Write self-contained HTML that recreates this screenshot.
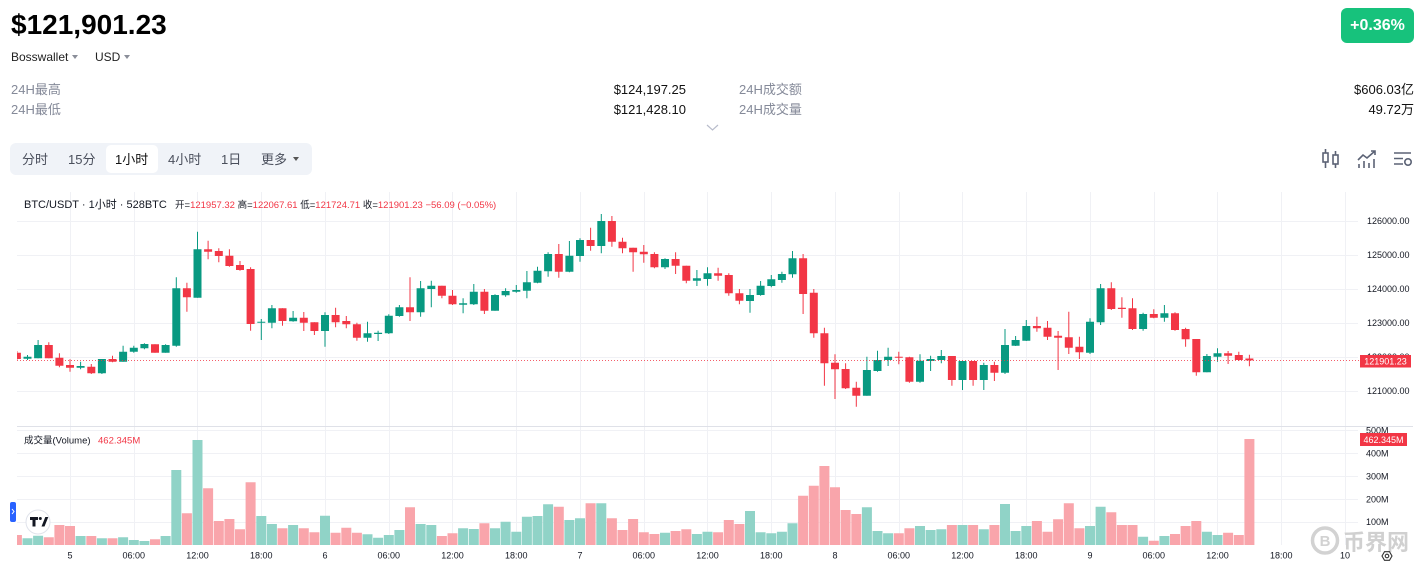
<!DOCTYPE html>
<html><head><meta charset="utf-8"><style>
*{margin:0;padding:0;box-sizing:border-box}
body{width:1423px;height:571px;overflow:hidden;background:#fff;position:relative;font-family:"Liberation Sans","Noto Sans CJK SC",sans-serif}
.a{position:absolute;white-space:nowrap}
.s{font-size:13px;line-height:13px}
.g{color:#858a99}
.v{color:#111}
.t{font-size:13px;line-height:13px;color:#4a4f5c;top:153px}
.tri{position:absolute;width:0;height:0;border-left:3px solid transparent;border-right:3px solid transparent;border-top:4px solid #8a8e99}
</style></head><body>
<div class="a" style="left:11px;top:11px;font-weight:bold;font-size:28px;line-height:28px;color:#000">$121,901.23</div>
<div class="a" style="left:11px;top:51px;font-size:12px;line-height:12px;color:#222">Bosswallet</div>
<div class="tri" style="left:72px;top:55px"></div>
<div class="a" style="left:95px;top:51px;font-size:12px;line-height:12px;color:#222">USD</div>
<div class="tri" style="left:124px;top:55px"></div>
<div class="a" style="left:1341px;top:8px;width:73px;height:35px;background:#17c27c;border-radius:6px;color:#fff;font-weight:bold;font-size:16px;line-height:35px;text-align:center">+0.36%</div>

<div class="a s g" style="left:11px;top:83px">24H最高</div>
<div class="a s g" style="left:11px;top:103px">24H最低</div>
<div class="a s v" style="right:737px;top:83px">$124,197.25</div>
<div class="a s v" style="right:737px;top:103px">$121,428.10</div>
<div class="a s g" style="left:739px;top:83px">24H成交额</div>
<div class="a s g" style="left:739px;top:103px">24H成交量</div>
<div class="a s v" style="right:9px;top:83px">$606.03亿</div>
<div class="a s v" style="right:9px;top:103px">49.72万</div>

<div class="a" style="left:10px;top:143px;width:302px;height:32px;background:#f0f3f8;border-radius:6px"></div>
<div class="a" style="left:106px;top:145px;width:52px;height:28px;background:#fff;border-radius:5px"></div>
<div class="a t" style="left:22px">分时</div>
<div class="a t" style="left:68px">15分</div>
<div class="a t" style="left:115px;color:#111">1小时</div>
<div class="a t" style="left:168px">4小时</div>
<div class="a t" style="left:221px">1日</div>
<div class="a t" style="left:261px">更多</div>
<div class="tri" style="left:293px;top:157px;border-top-color:#555"></div>

<svg class="a" style="left:0;top:0" width="1423" height="571" xmlns="http://www.w3.org/2000/svg" font-family="Liberation Sans, Noto Sans CJK SC, sans-serif">
<defs>
<clipPath id="cp"><rect x="17" y="190" width="1341" height="236"/></clipPath>
<clipPath id="cv"><rect x="17" y="427" width="1341" height="118"/></clipPath>
</defs>
<!-- chevron -->
<path d="M707 125l5.5 5 5.5-5" stroke="#b8bccb" stroke-width="1.2" fill="none"/>
<!-- top icons -->
<g stroke="#5b6275" stroke-width="1.6" fill="none">
<path d="M1325.5 149v19M1335.5 151v17"/>
<rect x="1323" y="153" width="5" height="9" fill="#fff"/>
<rect x="1333" y="155" width="5" height="9" fill="#fff"/>
<path d="M1359 168v-4M1364 168v-7M1369 168v-5M1374 168v-9"/>
<path d="M1358 160l5-5 4 3 8-7M1371 151h4v4"/>
<path d="M1394 153h17M1394 158.5h9M1394 164h9"/>
<circle cx="1408" cy="162" r="3.2"/>
</g>

<!-- grid -->
<g stroke="#f0f1f5" stroke-width="1" fill="none">
<path d="M17 221.5H1358M17 255.5H1358M17 289.5H1358M17 323.5H1358M17 357.5H1358M17 391.5H1358"/>
<path d="M17 430.5H1358M17 453.5H1358M17 476.5H1358M17 499.5H1358M17 522.5H1358"/>
<path d="M70.5 192V545M134.5 192V545M197.5 192V545M261.5 192V545M325.5 192V545M389.5 192V545M452.5 192V545M516.5 192V545M580.5 192V545M644.5 192V545M707.5 192V545M771.5 192V545M835.5 192V545M899.5 192V545M962.5 192V545M1026.5 192V545M1090.5 192V545M1154.5 192V545M1217.5 192V545M1281.5 192V545M1345.5 192V545"/>
</g>
<path d="M17 426.5H1413" stroke="#dfe1e8" stroke-width="1"/>

<!-- candles -->
<g clip-path="url(#cp)">
<path stroke="#089981" stroke-width="1" fill="none" d="M27.5 355V360M38.1 340V358.3M80.6 361.7V369.3M101.9 359V374M123.1 345.7V361.7M133.8 345.7V352.7M144.4 343.3V349.3M165.6 344.3V352.7M176.3 277.3V346.7M197.5 231.7V297.7M261.3 319V340M271.9 305V328.3M293.1 311V321.7M325 312.3V346.7M367.5 321.7V341.7M378.1 330.7V341M388.8 314.3V334M399.4 305V316.7M420.6 281V316.7M431.3 280.7V307.3M463.1 298.3V313.3M473.8 284V305M495 294.3V310.7M505.6 288.3V296.7M516.3 285V292.7M526.9 271V298.3M537.5 266.7V283.3M548.1 252.3V276.7M569.4 241V272.3M580 238.3V261.7M601.3 214V253.3M665 258.3V269M696.9 270V286M707.5 267.3V285.7M750 289V312.7M760.6 281V295.7M771.3 275V287.3M781.9 271.7V282.7M792.5 251V277.7M866.9 356.7V395.7M877.5 350.7V371.7M888.1 347.7V366M920 354.3V382.7M930.6 355.7V371M941.3 350V363.3M962.5 361V390M983.8 362.7V390M1005 329V374M1015.6 336V346M1026.3 320V341M1090 318.3V354M1100.6 284V325M1143.1 312.7V330.7M1164.4 305V321.7M1206.9 354V372.3M1217.5 348.3V361.7"/>
<path fill="#089981" d="M23.5 356.7h8V358.7h-8zM34.1 345h8V358.3h-8zM76.6 366h8V367.7h-8zM97.9 359h8V373.3h-8zM119.1 351.7h8V361.7h-8zM129.8 347.7h8V351.7h-8zM140.4 344h8V348.3h-8zM161.6 345h8V352.7h-8zM172.3 288.3h8V345.7h-8zM193.5 249.3h8V297.7h-8zM257.3 321.7h8V322.7h-8zM267.9 308.3h8V322.7h-8zM289.1 317.7h8V321.3h-8zM321 315h8V331h-8zM363.5 333.3h8V337.7h-8zM374.1 332.7h8V334h-8zM384.8 315.7h8V333.3h-8zM395.4 307.3h8V316h-8zM416.6 288.3h8V312.3h-8zM427.3 285.7h8V289h-8zM459.1 303.3h8V304.7h-8zM469.8 291.7h8V304.3h-8zM491 295h8V310.7h-8zM501.6 291h8V295.3h-8zM512.3 290h8V291.7h-8zM522.9 282.3h8V290.7h-8zM533.5 270.7h8V282.7h-8zM544.1 254h8V271.3h-8zM565.4 255.7h8V271.7h-8zM576 240h8V256h-8zM597.3 221h8V246h-8zM661 259h8V267.3h-8zM692.9 278.3h8V280.7h-8zM703.5 273.3h8V279h-8zM746 295h8V301h-8zM756.6 285.7h8V295h-8zM767.3 279.3h8V286h-8zM777.9 274h8V280h-8zM788.5 258.3h8V274.3h-8zM862.9 370h8V395.7h-8zM873.5 360h8V371h-8zM884.1 356.7h8V360h-8zM916 360.7h8V381.7h-8zM926.6 359h8V361h-8zM937.3 356h8V360h-8zM958.5 361h8V380h-8zM979.8 365h8V380h-8zM1001 345h8V372.7h-8zM1011.6 340h8V345.7h-8zM1022.3 326h8V340.7h-8zM1086 321.7h8V352.7h-8zM1096.6 288.3h8V322.3h-8zM1139.1 314h8V329h-8zM1160.4 313.3h8V317.7h-8zM1202.9 356h8V372.3h-8zM1213.5 353.3h8V356.7h-8z"/>
<path stroke="#f23645" stroke-width="1" fill="none" d="M16.9 351V360M48.8 342.3V358.3M59.4 353.3V367.3M70 359.3V371.7M91.3 364V374M112.5 355.7V362.3M155 344.3V352.7M186.9 282.7V311.7M208.1 240.7V259.3M218.8 248.3V262.3M229.4 249.3V266.7M240 261V270.7M250.6 267.3V330.7M282.5 308.3V325.7M303.8 312V331M314.4 322.3V335M335.6 307.7V327.3M346.3 316V328.3M356.9 322.7V340.7M410 277.3V321M441.9 285.7V298.3M452.5 290V305M484.4 289V314M558.8 244V277.7M590.6 227.7V250.7M611.9 216V246.7M622.5 237.7V253.3M633.1 247.7V271.7M643.8 245V262.7M654.4 252.3V268.3M675.6 252.3V274M686.3 265.7V283.3M718.1 267.7V280.7M728.8 273.3V295.7M739.4 289V304.3M803.1 254V314M813.8 289V337.7M824.4 327.7V385.7M835 354.3V399M845.6 363.3V389M856.3 381.7V406.7M898.8 351.7V364.3M909.4 356.7V382.7M951.9 356V385.7M973.1 361V385.7M994.4 361.7V381M1036.9 316.7V331.7M1047.5 321V340M1058.1 331V370M1068.8 311.7V354M1079.4 336.7V359M1111.3 282.3V310M1121.9 297.3V317.7M1132.5 298.3V330M1153.8 309.3V318.3M1175 312.3V330.7M1185.6 327.7V346.7M1196.3 339V375.7M1228.1 351V364M1238.8 351.7V361M1249.4 354.7V366.3"/>
<path fill="#f23645" d="M12.9 352.7h8V359h-8zM44.8 345h8V358.3h-8zM55.4 357.7h8V365.7h-8zM66 365h8V367.7h-8zM87.3 366.7h8V373.3h-8zM108.5 359h8V361.7h-8zM151 344.3h8V352.7h-8zM182.9 288.3h8V297.3h-8zM204.1 249.3h8V251.7h-8zM214.8 251h8V256h-8zM225.4 255.7h8V266h-8zM236 265h8V270h-8zM246.6 269h8V324h-8zM278.5 308.3h8V321h-8zM299.8 317.7h8V322.7h-8zM310.4 322.3h8V331h-8zM331.6 315h8V322.3h-8zM342.3 321h8V324.3h-8zM352.9 324.3h8V337.7h-8zM406 307.3h8V312.3h-8zM437.9 285.7h8V295.7h-8zM448.5 295.7h8V304.3h-8zM480.4 291.7h8V310.7h-8zM554.8 254h8V271.7h-8zM586.6 240h8V246h-8zM607.9 221h8V241.7h-8zM618.5 241.7h8V248.3h-8zM629.1 247.7h8V252.3h-8zM639.8 251.7h8V254.3h-8zM650.4 254h8V267.3h-8zM671.6 259h8V265.7h-8zM682.3 265.7h8V280.7h-8zM714.1 273.3h8V275.7h-8zM724.8 275h8V293.3h-8zM735.4 293.3h8V300.7h-8zM799.1 258.3h8V294h-8zM809.8 292.7h8V333.3h-8zM820.4 333.3h8V363.3h-8zM831 362.7h8V369.3h-8zM841.6 369h8V388.3h-8zM852.3 387.7h8V395.7h-8zM894.8 356.7h8V357.7h-8zM905.4 357.3h8V381.7h-8zM947.9 356h8V380h-8zM969.1 361h8V380h-8zM990.4 365h8V372.7h-8zM1032.9 326h8V328.3h-8zM1043.5 327.7h8V336.7h-8zM1054.1 335.7h8V337.7h-8zM1064.8 337.3h8V347.7h-8zM1075.4 346.7h8V352.3h-8zM1107.3 288.3h8V309h-8zM1117.9 307.7h8V309h-8zM1128.5 308.3h8V329h-8zM1149.8 314h8V317.7h-8zM1171 313.3h8V330h-8zM1181.6 329h8V339.3h-8zM1192.3 339h8V372.3h-8zM1224.1 353.3h8V355.7h-8zM1234.8 355h8V360h-8zM1245.4 358.5h8V360.4h-8z"/>
</g>
<!-- price line -->
<path d="M17 360.5H1360" stroke="#f23645" stroke-width="1" stroke-dasharray="1 2" opacity="0.8"/>

<!-- volume -->
<g clip-path="url(#cv)">
<path fill="#90d3c7" d="M22.5 538.3h10V545h-10zM33.1 535.7h10V545h-10zM75.6 536h10V545h-10zM96.9 538.3h10V545h-10zM118.1 537.3h10V545h-10zM128.8 540h10V545h-10zM139.4 541h10V545h-10zM160.6 536h10V545h-10zM171.3 470h10V545h-10zM192.5 440h10V545h-10zM256.3 516h10V545h-10zM266.9 524h10V545h-10zM288.1 525h10V545h-10zM320 515.7h10V545h-10zM362.5 534.3h10V545h-10zM373.1 537.7h10V545h-10zM383.8 535h10V545h-10zM394.4 530h10V545h-10zM415.6 524h10V545h-10zM426.3 525h10V545h-10zM458.1 528.3h10V545h-10zM468.8 529h10V545h-10zM490 528.3h10V545h-10zM500.6 521.7h10V545h-10zM511.3 531.7h10V545h-10zM521.9 516.7h10V545h-10zM532.5 516h10V545h-10zM543.1 504.3h10V545h-10zM564.4 520h10V545h-10zM575 518.3h10V545h-10zM596.3 503.3h10V545h-10zM660 532.7h10V545h-10zM691.9 534h10V545h-10zM702.5 531.7h10V545h-10zM745 511h10V545h-10zM755.6 532.3h10V545h-10zM766.3 533.3h10V545h-10zM776.9 531.7h10V545h-10zM787.5 523.3h10V545h-10zM861.9 507.3h10V545h-10zM872.5 531h10V545h-10zM883.1 533.3h10V545h-10zM915 526h10V545h-10zM925.6 530h10V545h-10zM936.3 529.3h10V545h-10zM957.5 525h10V545h-10zM978.8 529.3h10V545h-10zM1000 504h10V545h-10zM1010.6 531h10V545h-10zM1021.3 526h10V545h-10zM1085 526h10V545h-10zM1095.6 506.7h10V545h-10zM1138.1 536.7h10V545h-10zM1159.4 536h10V545h-10zM1201.9 531.7h10V545h-10zM1212.5 535h10V545h-10z"/>
<path fill="#f9a5ab" d="M11.9 535h10V545h-10zM43.8 537.3h10V545h-10zM54.4 525h10V545h-10zM65 526h10V545h-10zM86.3 536h10V545h-10zM107.5 538.3h10V545h-10zM150 539.3h10V545h-10zM181.9 513.3h10V545h-10zM203.1 488.3h10V545h-10zM213.8 521h10V545h-10zM224.4 519h10V545h-10zM235 529.3h10V545h-10zM245.6 482.3h10V545h-10zM277.5 528.3h10V545h-10zM298.8 528.3h10V545h-10zM309.4 532.3h10V545h-10zM330.6 532.7h10V545h-10zM341.3 527.7h10V545h-10zM351.9 532.7h10V545h-10zM405 507.3h10V545h-10zM436.9 536h10V545h-10zM447.5 533.3h10V545h-10zM479.4 523.3h10V545h-10zM553.8 506.7h10V545h-10zM585.6 503.3h10V545h-10zM606.9 518.3h10V545h-10zM617.5 530h10V545h-10zM628.1 519h10V545h-10zM638.8 532.3h10V545h-10zM649.4 534h10V545h-10zM670.6 531h10V545h-10zM681.3 529.3h10V545h-10zM713.1 532.3h10V545h-10zM723.8 520h10V545h-10zM734.4 524h10V545h-10zM798.1 495.7h10V545h-10zM808.8 485.7h10V545h-10zM819.4 466h10V545h-10zM830 487.3h10V545h-10zM840.6 510h10V545h-10zM851.3 514h10V545h-10zM893.8 533.3h10V545h-10zM904.4 528.3h10V545h-10zM946.9 525h10V545h-10zM968.1 525h10V545h-10zM989.4 525h10V545h-10zM1031.9 521h10V545h-10zM1042.5 531.7h10V545h-10zM1053.1 519.3h10V545h-10zM1063.8 503.3h10V545h-10zM1074.4 528.3h10V545h-10zM1106.3 512.3h10V545h-10zM1116.9 525h10V545h-10zM1127.5 525h10V545h-10zM1148.8 540.7h10V545h-10zM1170 534h10V545h-10zM1180.6 526h10V545h-10zM1191.3 521h10V545h-10zM1223.1 532.7h10V545h-10zM1233.8 535h10V545h-10zM1244.4 439h10V545h-10z"/>
</g>

<!-- chart header -->
<text x="24" y="208" font-size="11" fill="#131722">BTC/USDT · 1小时 · 528BTC</text>
<text x="175" y="208" font-size="9.5" fill="#131722">开=<tspan fill="#f23645">121957.32</tspan> 高=<tspan fill="#f23645">122067.61</tspan> 低=<tspan fill="#f23645">121724.71</tspan> 收=<tspan fill="#f23645">121901.23</tspan> <tspan fill="#f23645">−56.09 (−0.05%)</tspan></text>

<!-- volume legend -->
<text x="24" y="443.5" font-size="9.5" fill="#131722">成交量(Volume)</text>
<text x="98" y="443.5" font-size="9.5" fill="#f23645">462.345M</text>

<!-- price axis -->
<g font-size="9" fill="#131722">
<text x="1367" y="224.2">126000.00</text>
<text x="1367" y="258.2">125000.00</text>
<text x="1367" y="292.2">124000.00</text>
<text x="1367" y="326.2">123000.00</text>
<text x="1367" y="360.2">122000.00</text>
<text x="1367" y="394.2">121000.00</text>
<text x="1366" y="433.6">500M</text>
<text x="1366" y="456.5">400M</text>
<text x="1366" y="479.4">300M</text>
<text x="1366" y="502.3">200M</text>
<text x="1366" y="525.2">100M</text>
</g>
<rect x="1360" y="355" width="51" height="12.5" fill="#f23645"/>
<text x="1385.5" y="364.5" font-size="9" fill="#fff" text-anchor="middle">121901.23</text>
<rect x="1360" y="433" width="47" height="13" fill="#f23645"/>
<text x="1383.5" y="442.8" font-size="9" fill="#fff" text-anchor="middle">462.345M</text>

<!-- time axis -->
<g font-size="9" fill="#131722" text-anchor="middle">
<text x="70" y="558.5">5</text><text x="133.75" y="558.5">06:00</text><text x="197.5" y="558.5">12:00</text><text x="261.25" y="558.5">18:00</text>
<text x="325" y="558.5">6</text><text x="388.75" y="558.5">06:00</text><text x="452.5" y="558.5">12:00</text><text x="516.25" y="558.5">18:00</text>
<text x="580" y="558.5">7</text><text x="643.75" y="558.5">06:00</text><text x="707.5" y="558.5">12:00</text><text x="771.25" y="558.5">18:00</text>
<text x="835" y="558.5">8</text><text x="898.75" y="558.5">06:00</text><text x="962.5" y="558.5">12:00</text><text x="1026.25" y="558.5">18:00</text>
<text x="1090" y="558.5">9</text><text x="1153.75" y="558.5">06:00</text><text x="1217.5" y="558.5">12:00</text><text x="1281.25" y="558.5">18:00</text>
<text x="1345" y="558.5">10</text>
</g>

<!-- watermark -->
<circle cx="1325" cy="540.5" r="12.5" fill="none" stroke="#d2d2d2" stroke-width="3.5"/>
<text x="1325" y="546" font-size="15" font-weight="bold" fill="#d2d2d2" text-anchor="middle">B</text>
<text x="1343" y="550" font-size="22" font-weight="bold" fill="#d0d0d0" font-family="Liberation Sans, Noto Sans CJK SC, sans-serif">币界网</text>

<!-- settings hex -->
<path d="M1382 556l2.5-4.3h5l2.5 4.3-2.5 4.3h-5z" fill="none" stroke="#333" stroke-width="1.1"/>
<circle cx="1387" cy="556" r="1.8" fill="none" stroke="#333" stroke-width="1.1"/>

<!-- left blue tab -->
<rect x="10" y="502" width="6" height="20" rx="2" fill="#2962ff"/>
<path d="M12 509l2 2.5-2 2.5" stroke="#fff" stroke-width="1" fill="none"/>

<!-- TV logo -->
<circle cx="38" cy="522" r="12" fill="#fff" stroke="#e0e3eb" stroke-width="1"/>
<path d="M30 517h8v3h-2.5v6.5h-3V520H30z" fill="#131722"/>
<circle cx="40.3" cy="518.5" r="1.5" fill="#131722"/>
<path d="M41.5 526.5l3.8-9.5h3l-3.8 9.5z" fill="#131722"/>
</svg>
</body></html>
